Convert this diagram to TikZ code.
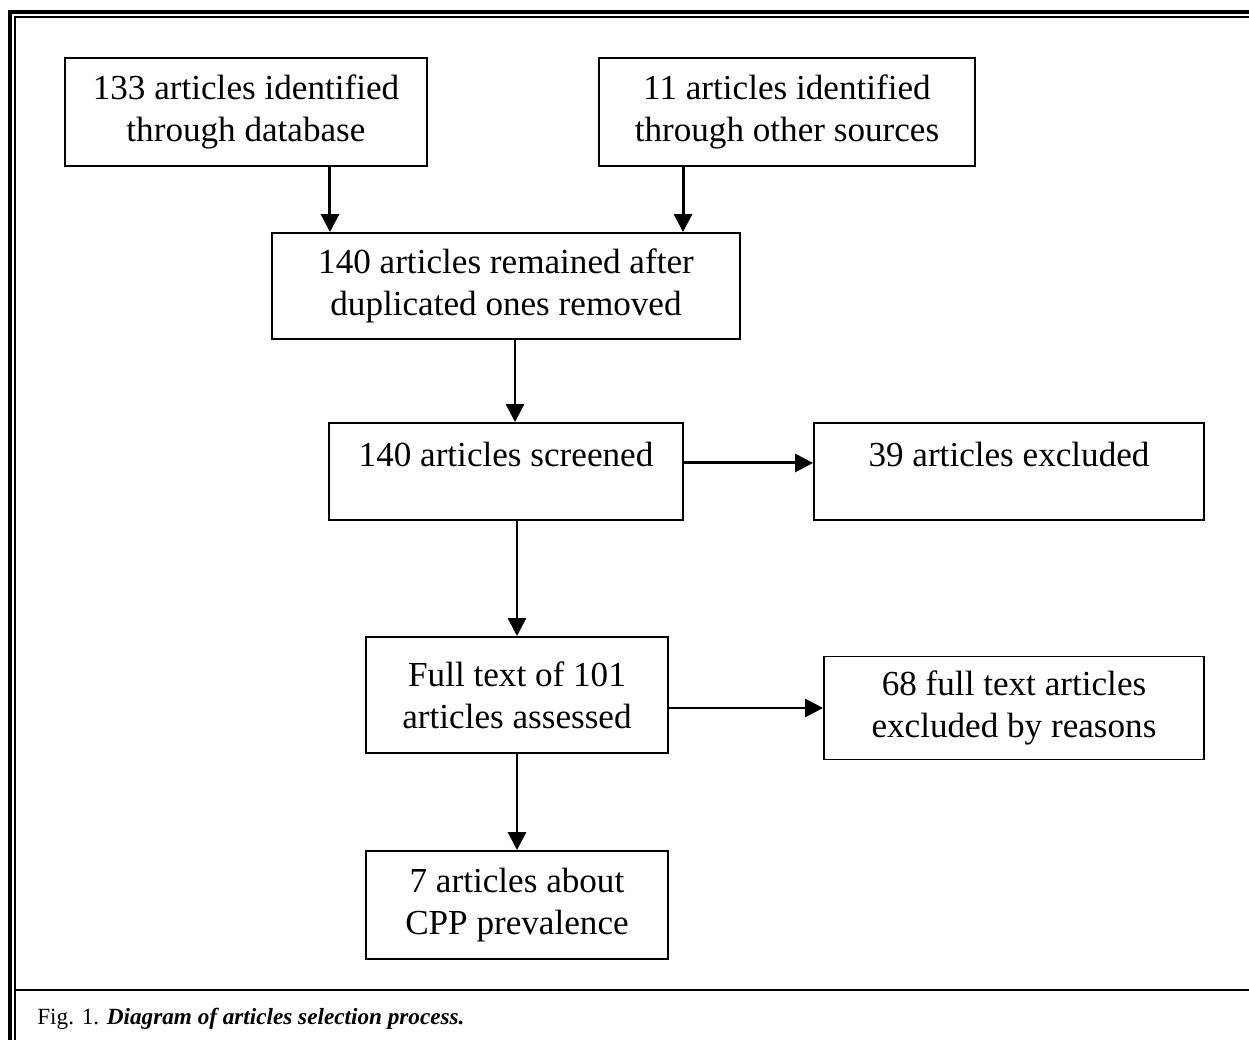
\documentclass[tikz,border=0pt]{standalone}
\usepackage{fontspec}
\setmainfont{Liberation Serif}
\usetikzlibrary{arrows.meta}
\tikzset{
  box/.style={draw,line width=1.1pt,align=center,inner sep=0pt,
    font=\fontsize{20}{23.8}\selectfont},
  lowbox/.style={box,text height=0.88cm,text depth=1.06cm},
  arr/.style={line width=1.7pt,-{Triangle[length=0.36cm,width=0.36cm]}}
}
\begin{document}
\begin{tikzpicture}[x=0.02cm,y=-0.02cm]
\useasboundingbox(0,0)rectangle(1249,1040);
%frame
\draw[line width=2pt](10,1040)--(10,12)--(1249,12);
\draw[line width=0.9pt](15,1040)--(15,17)--(1249,17);
\draw[line width=1.6pt](15,990)--(1249,990);
%sources
\node[box,minimum width=7.26cm,minimum height=2.16cm](db)at(246,112){133 articles identified\\through database};
\node[box,minimum width=7.52cm,minimum height=2.16cm](oth)at(787,112){11 articles identified\\through other sources};
%duplicates
\node[box,minimum width=9.36cm,minimum height=2.12cm](dup)at(506,286){140 articles remained after\\duplicated ones removed};
%screening
\node[lowbox,minimum width=7.08cm](scr)at(506,471.5){140 articles screened};
\node[lowbox,minimum width=7.8cm](exc1)at(1009,471.5){39 articles excluded};
%full text
\node[box,minimum width=6.04cm,minimum height=2.32cm](full)at(517,695){Full text of 101\\articles assessed};
\node[box,minimum width=7.6cm,minimum height=2.06cm](exc2)at(1014,708){68 full text articles\\excluded by reasons};
%included
\node[box,minimum width=6.04cm,minimum height=2.16cm](cpp)at(517,905){7 articles about\\CPP prevalence};
%arrows
\coordinate(dbout)at([xshift=1.68cm]db.south);
\coordinate(othout)at([xshift=-2.08cm]oth.south);
\coordinate(dupout)at([xshift=0.18cm]dup.south);
\draw[arr](dbout)--(dbout|-dup.north);
\draw[arr](othout)--(othout|-dup.north);
\draw[arr](dupout)--(dupout|-scr.north);
\draw[arr](scr.mid east)--(exc1.mid west);
\draw[arr](full.north|-scr.south)--(full.north);
\draw[arr](full.east|-exc2.west)--(exc2.west);
\draw[arr](full.south)--(cpp.north);
%caption
\node[anchor=base west,inner sep=0pt,font=\fontsize{13.2}{15}\selectfont](cap)at(37,1024){Fig. 1. \textit{\textbf{Diagram of articles selection process.}}};
\end{tikzpicture}
\end{document}
